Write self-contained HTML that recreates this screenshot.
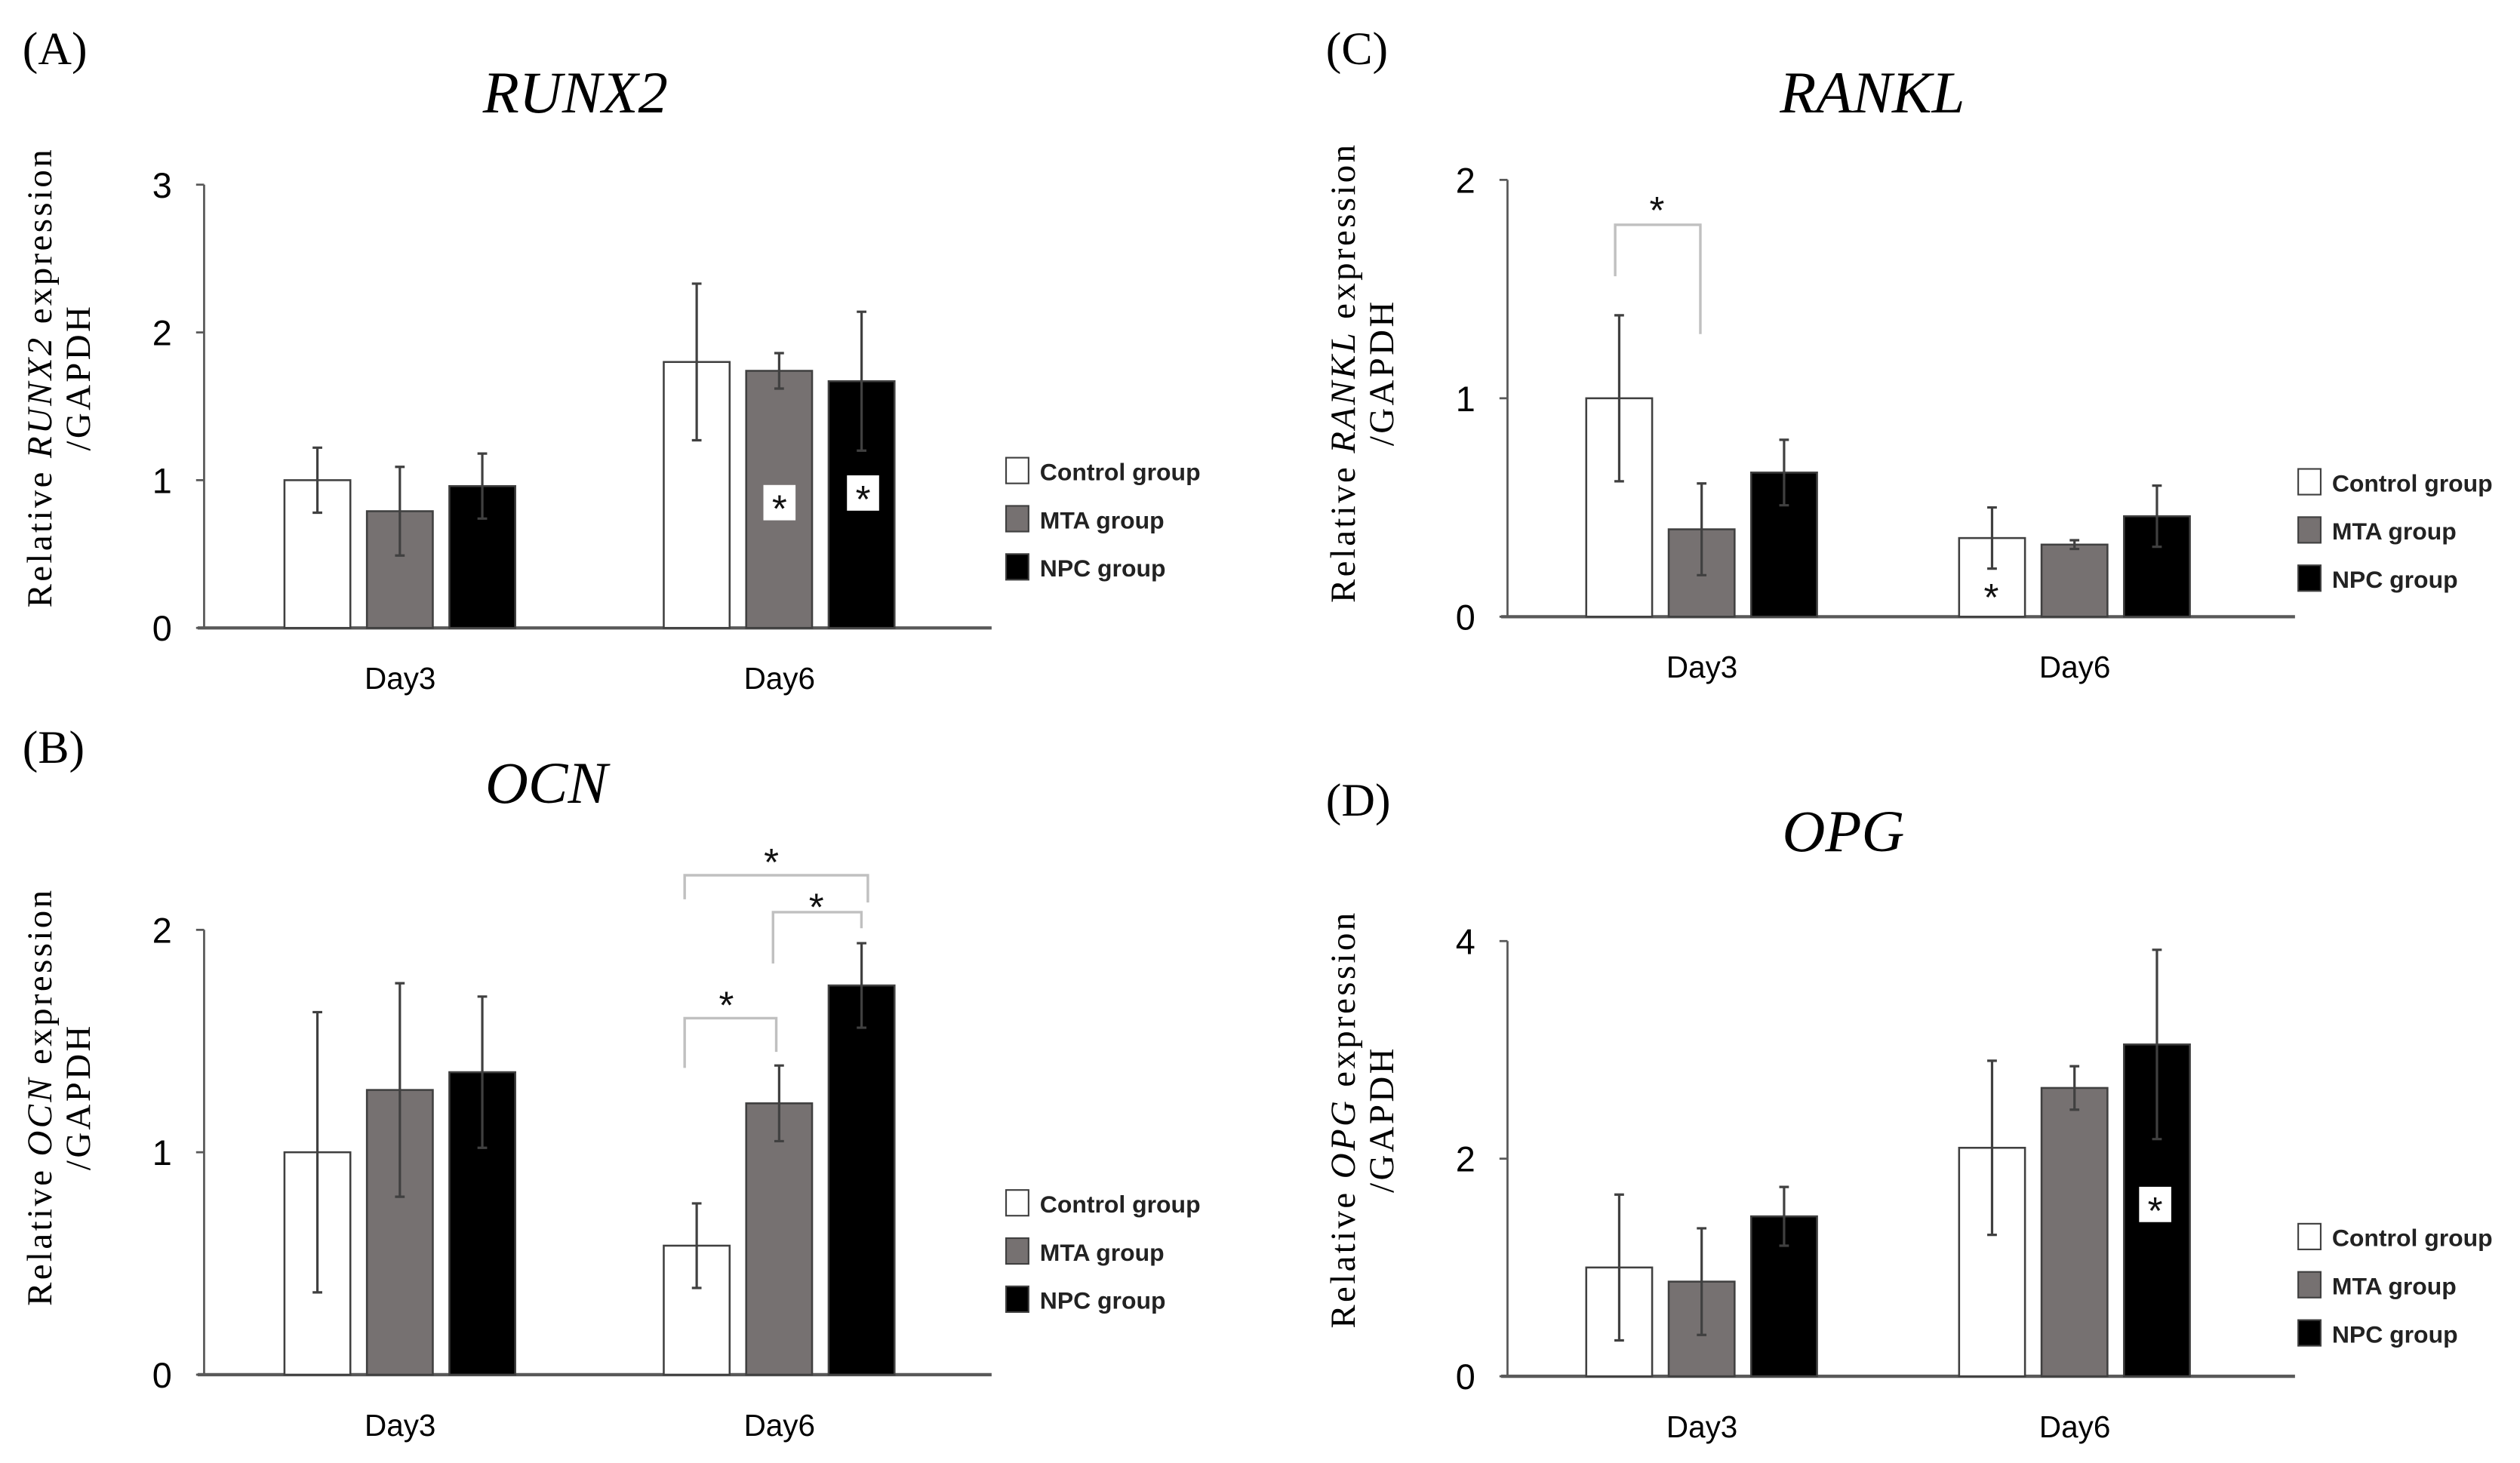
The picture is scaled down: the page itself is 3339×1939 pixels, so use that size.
<!DOCTYPE html>
<html><head><meta charset="utf-8"><style>
html,body{margin:0;padding:0;background:#fff;}
svg{display:block;}
</style></head><body>
<svg id="fig" width="3339" height="1939" viewBox="0 0 1568 911" preserveAspectRatio="none" xmlns="http://www.w3.org/2000/svg"></svg>
<script>
// Data arrays
const groups = ['Control group','MTA group','NPC group'];
const days = ['Day3','Day6'];
const runx2Vals = [[1.0,0.79,0.96],[1.80,1.74,1.67]];
const runx2Err = [[0.22,0.30,0.22],[0.53,0.12,0.47]];
const ocnVals = [[1.0,1.28,1.36],[0.58,1.22,1.75]];
const ocnErr = [[0.63,0.48,0.34],[0.19,0.17,0.19]];
const ranklVals = [[1.0,0.40,0.66],[0.36,0.33,0.46]];
const ranklErr = [[0.38,0.21,0.15],[0.14,0.02,0.14]];
const opgVals = [[1.0,0.87,1.47],[2.1,2.65,3.05]];
const opgErr = [[0.67,0.49,0.27],[0.80,0.20,0.87]];
const runx2Ticks = [0,1,2,3];
const ocnTicks = [0,1,2];
const ranklTicks = [0,1,2];
const opgTicks = [0,2,4];

const NS='http://www.w3.org/2000/svg';
const svg=document.getElementById('fig');
function mk(tag,attrs,parent){const e=document.createElementNS(NS,tag);for(const k in attrs)e.setAttribute(k,attrs[k]);(parent||svg).appendChild(e);return e;}
const fills=['#ffffff','#767171','#000000'];

function panel(o){
  const g=mk('g',{});
  
  
  const ymax=o.ticks[o.ticks.length-1];
  const ys=v=>o.y0-(o.y0-o.yTop)*v/ymax;
  const lab=mk('text',{x:o.ax-113,y:o.labY,'font-family':'Liberation Serif, serif','font-size':29},g);lab.textContent=o.label;
  
  const t=mk('text',{x:o.titleX,y:o.titleY,'font-family':'Liberation Serif, serif','font-style':'italic','font-size':37,'text-anchor':'middle'},g);t.textContent=o.title;
  
  const yt=mk('text',{transform:`translate(${o.ax-95},${o.yTitleC}) rotate(-90)`,'font-family':'Liberation Serif, serif','font-size':22,'text-anchor':'middle','letter-spacing':'1.6'},g);
  
  const s1=mk('tspan',{x:0,y:0},yt);s1.textContent='Relative ';
  const s2=mk('tspan',{'font-style':'italic'},yt);s2.textContent=o.title;
  const s3=mk('tspan',{},yt);s3.textContent=' expression';
  const s4=mk('tspan',{x:0,y:24},yt);s4.textContent='/GAPDH';
  const ya=mk('line',{x1:o.ax,y1:o.yTop,x2:o.ax,y2:o.y0,stroke:'#595959','stroke-width':1.3},g);
  
  o.ticks.forEach(v=>{
    mk('line',{x1:o.ax-5,y1:ys(v),x2:o.ax,y2:ys(v),stroke:'#595959','stroke-width':1.3},g);
    const tl=mk('text',{x:o.ax-20,y:ys(v)+8,'font-family':'Liberation Sans, sans-serif','font-size':22,'text-anchor':'end'},g);tl.textContent=v;
    
  });
  const xa=mk('line',{x1:o.ax-4,y1:o.y0,x2:o.ax+490,y2:o.y0,stroke:'#595959','stroke-width':2},g);
  
  o.vals.forEach((row,d)=>{
    const base=o.ax+o.off+d*o.gap;
    row.forEach((v,i)=>{
      const x=base+i*51.3;
      const r=mk('rect',{x:x,y:ys(v),width:41,height:o.y0-ys(v),fill:fills[i],stroke:'#404040','stroke-width':1.2},g);
      
      
      const e=o.err[d][i];const cx=x+20.5;
      const el=mk('path',{d:`M${cx},${ys(v-e)}V${ys(v+e)}M${cx-3},${ys(v+e)}H${cx+3}M${cx-3},${ys(v-e)}H${cx+3}`,stroke:'#404040','stroke-width':1.5,fill:'none'},g);
      
    });
    const dl=mk('text',{x:base+72,y:o.y0+38,'font-family':'Liberation Sans, sans-serif','font-size':19,'text-anchor':'middle'},g);dl.textContent=days[d];
    
  });
  groups.forEach((gn,i)=>{
    const ly=o.legY+i*30;
    const lr=mk('rect',{x:o.legX,y:ly-8,width:14,height:16,fill:fills[i],stroke:'#404040','stroke-width':1},g);
    
    const lt=mk('text',{x:o.legX+21,y:ly+6,'font-family':'Liberation Sans, sans-serif','font-size':15,'font-weight':'bold','fill':'#222'},g);lt.textContent=gn;
    
  });
  (o.stars||[]).forEach(s=>{
    if(s.box){const b=mk('rect',{x:s.x-10,y:s.y-11,width:20,height:22,fill:'#fff'},g);}
    const st=mk('text',{x:s.x,y:s.y+12,'font-family':'Liberation Sans, sans-serif','font-size':24,'text-anchor':'middle',fill:'#111'},g);st.textContent='*';
    
  });
  (o.brackets||[]).forEach(b=>{
    const p=mk('path',{d:`M${b.x1},${b.y1}V${b.top}H${b.x2}V${b.y2}`,stroke:'#c0c0c0','stroke-width':1.6,fill:'none'},g);
    
  });
}

panel({name:'runx2',label:'(A)',title:'RUNX2',titleX:358,titleY:70,labY:40,ax:127,off:50,gap:236,y0:391,yTop:115,ticks:runx2Ticks,vals:runx2Vals,err:runx2Err,yTitleC:235,legX:626,legY:293,
  stars:[{x:485,y:313,box:true},{x:537,y:307,box:true}]});
panel({name:'ocn',label:'(B)',title:'OCN',titleX:340,titleY:500,labY:475,ax:127,off:50,gap:236,y0:856,yTop:579,ticks:ocnTicks,vals:ocnVals,err:ocnErr,yTitleC:683,legX:626,legY:749,
  stars:[{x:452,y:622},{x:508,y:561},{x:480,y:533}],
  brackets:[{x1:426,y1:665,top:634,x2:483,y2:655},{x1:481,y1:600,top:568,x2:536,y2:578},{x1:426,y1:560,top:545,x2:540,y2:562}]});
panel({name:'rankl',label:'(C)',title:'RANKL',titleX:1165,titleY:70,labY:40,ax:938,off:49,gap:232,y0:384,yTop:112,ticks:ranklTicks,vals:ranklVals,err:ranklErr,yTitleC:232,legX:1430,legY:300,
  stars:[{x:1239,y:368},{x:1031,y:127}],
  brackets:[{x1:1005,y1:172,top:140,x2:1058,y2:208}]});
panel({name:'opg',label:'(D)',title:'OPG',titleX:1147,titleY:530,labY:508,ax:938,off:49,gap:232,y0:857,yTop:586,ticks:opgTicks,vals:opgVals,err:opgErr,yTitleC:697,legX:1430,legY:770,
  stars:[{x:1341,y:750,box:true}]});
</script>
</body></html>
